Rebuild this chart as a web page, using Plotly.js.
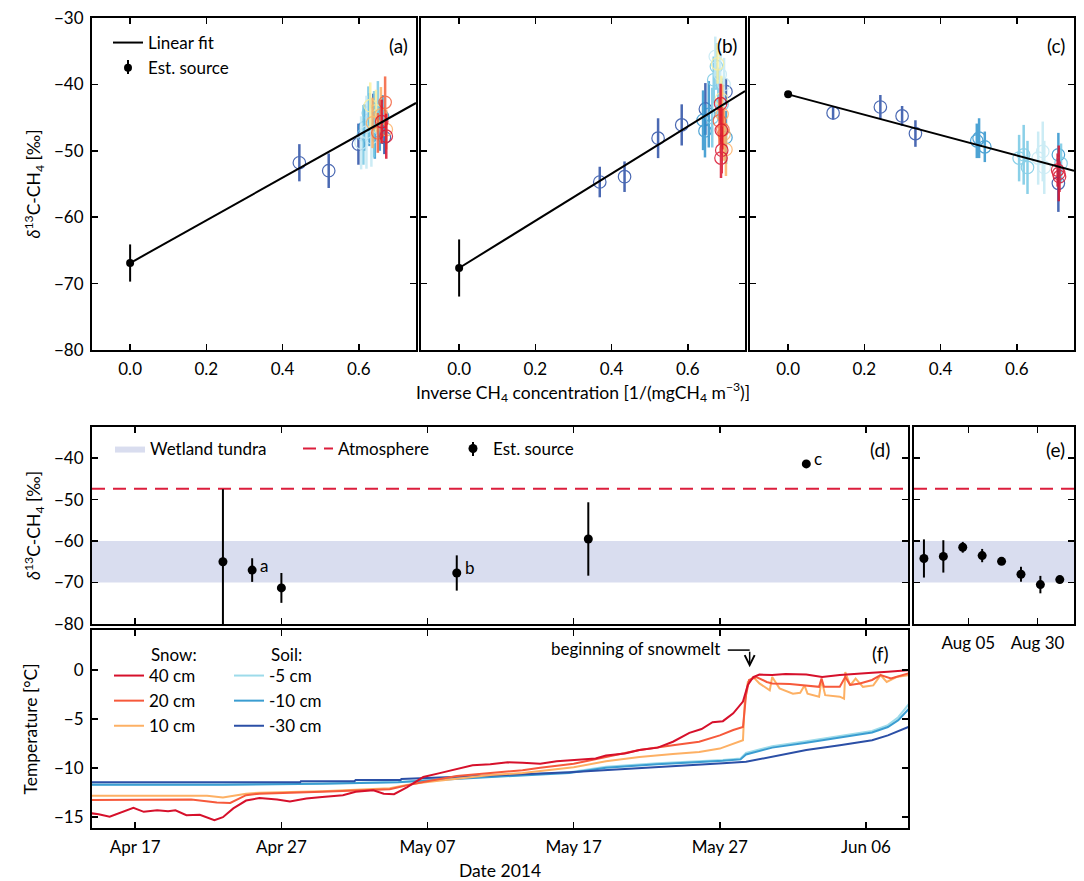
<!DOCTYPE html>
<html><head><meta charset="utf-8">
<script src="https://cdn.plot.ly/plotly-3.0.1.min.js"></script>
<style>html,body{margin:0;padding:0;background:#fff}</style>
</head><body><div id="chart" style="width:1084px;height:881px"></div>
<script>
// ---------------- DATA ----------------
// Panel (a): inverse concentration vs delta13C, with error and sampling group
const aX = [0.444,0.521,0.599,0.638,0.667, 0.615,0.628,0.642,0.655,0.662, 0.612,0.625,0.640,0.650, 0.606,0.620,0.633, 0.630,0.645, 0.636,0.658,0.672, 0.669,0.650, 0.660,0.672];
const aY = [-51.8,-53.0,-49.0,-45.0,-48.0, -46.5,-45.3,-47.0,-46.2,-44.8, -47.6,-44.3,-46.0,-43.5, -48.8,-47.2,-48.0, -43.2,-44.0, -45.8,-44.6,-46.8, -42.7,-47.3, -45.6,-47.8];
const aErr = [2.8,2.6,3.1,3.6,2.5, 3.5,4.0,4.2,3.8,3.2, 4.5,4.0,5.0,4.0, 4.0,5.5,4.4, 3.5,3.2, 3.8,4.2,3.0, 3.9,3.0, 3.3,3.4];
const aGroup = [0,0,0,0,0, 1,1,1,1,1, 2,2,2,2, 3,3,3, 4,4, 5,5,5, 6,6, 7,7];
// Panel (b)
const bX = [0.369,0.434,0.522,0.584,0.646,0.700, 0.640,0.645,0.655,0.700, 0.668,0.675,0.680,0.690,0.664, 0.672,0.685,0.695, 0.678,0.688, 0.690,0.695,0.700, 0.683,0.692, 0.686,0.688,0.689,0.687];
const bY = [-54.7,-53.9,-48.1,-46.1,-43.7,-41.1, -45.4,-47.0,-44.5,-48.0, -39.3,-37.3,-41.5,-43.0,-45.0, -35.8,-38.5,-40.0, -36.9,-42.2, -44.5,-47.5,-49.8, -45.5,-46.8, -42.9,-46.9,-49.9,-51.1];
const bErr = [2.3,2.3,3.0,3.1,3.9,2.0, 4.5,4.0,5.0,4.0, 3.5,3.5,4.0,4.0,4.5, 3.0,3.5,4.0, 3.0,3.5, 4.5,4.0,4.0, 3.5,3.0, 3.0,3.5,3.5,3.0];
const bGroup = [0,0,0,0,0,0, 1,1,1,1, 2,2,2,2,2, 3,3,3, 4,4, 5,5,5, 6,6, 7,7,7,7];
// Panel (c)
const cX = [0.118,0.242,0.299,0.334,0.709, 0.495,0.501,0.516,0.709, 0.606,0.618,0.628,0.716, 0.656,0.668,0.672, 0.707,0.710,0.712];
const cY = [-44.3,-43.4,-44.75,-47.4,-54.9, -48.5,-48.1,-49.4,-50.6, -51.1,-50.6,-52.5,-51.9, -51.1,-50.1,-52.5, -52.9,-53.4,-53.9];
const cErr = [1.0,1.8,1.5,2.0,4.3, 2.6,3.0,2.3,3.3, 3.5,4.5,4.0,3.0, 4.0,4.5,4.0, 2.5,4.2,2.3];
const cGroup = [0,0,0,0,0, 1,1,1,1, 2,2,2,2, 3,3,3, 7,7,7];
// Estimated sources (intercepts) for (a),(b),(c)
const srcX = [0, 0, 0];
const srcY = [-66.9, -67.65, -41.5];
const srcErr = [2.8, 4.3, 0.2];
// Linear fit end points
const fitX = [0, 0.75];
const fitAY = [-66.9, -42.8];
const fitBY = [-67.65, -41.0];
const fitCY = [-41.5, -53.0];

// Panel (d): estimated source over time (spring 2014)
const dDates = ['2014-04-23','2014-04-25','2014-04-27','2014-05-09','2014-05-18','2014-06-01 22:00'];
const dVals = [-65.0, -67.0, -71.3, -67.7, -59.5, -41.4];
const dErr = [17.5, 2.85, 3.6, 4.25, 8.85, 0.0];
const dLabels = ['', 'a', '', 'b', '', 'c'];
// Panel (e): summer 2014
const eDates = ['2014-07-20','2014-07-27','2014-08-03','2014-08-10','2014-08-17','2014-08-24','2014-08-31','2014-09-07'];
const eVals = [-64.2, -63.7, -61.5, -63.5, -64.9, -68.0, -70.5, -69.3];
const eErr = [4.6, 3.9, 1.3, 1.6, 0.3, 1.8, 2.1, 0.3];
const wetlandRange = [-70, -60];
const atmosphereVal = -47.4;

// Panel (f): temperatures
const t40Dates = ['2014-04-14 00:00','2014-04-14 12:00','2014-04-15 06:00','2014-04-16 00:00','2014-04-16 21:00','2014-04-17 14:00','2014-04-18 12:00','2014-04-19 06:00','2014-04-19 18:00','2014-04-20 12:00','2014-04-21 10:00','2014-04-22 10:00','2014-04-23 00:00','2014-04-23 17:00','2014-04-24 14:00','2014-04-25 12:00','2014-04-26 17:00','2014-04-27 14:00','2014-04-28 17:00','2014-04-29 19:00','2014-05-01 05:00','2014-05-02 02:00','2014-05-03 07:00','2014-05-04 00:00','2014-05-04 17:00','2014-05-05 14:00','2014-05-06 17:00','2014-05-07 20:00','2014-05-09 00:00','2014-05-10 02:00','2014-05-11 07:00','2014-05-12 12:00','2014-05-13 12:00','2014-05-14 17:00','2014-05-15 20:00','2014-05-17 00:00','2014-05-18 12:00','2014-05-19 05:00','2014-05-20 12:00','2014-05-21 12:00','2014-05-22 18:00','2014-05-23 19:00','2014-05-24 22:00','2014-05-25 18:00','2014-05-26 12:00','2014-05-27 05:00','2014-05-27 22:00','2014-05-28 14:00','2014-05-28 22:00','2014-05-29 07:00','2014-05-29 17:00','2014-05-30 14:00','2014-05-31 12:00','2014-06-01 22:00','2014-06-03 00:00','2014-06-04 05:00','2014-06-05 07:00','2014-06-06 10:00','2014-06-07 12:00','2014-06-08 23:00'];
const t40Vals = [-14.6,-14.7,-14.95,-14.5,-14.05,-14.45,-14.3,-14.4,-14.3,-14.8,-14.75,-15.3,-15.0,-14.1,-13.3,-13.05,-13.2,-13.4,-13.1,-12.95,-12.75,-12.4,-12.25,-12.6,-12.65,-11.95,-10.9,-10.5,-10.05,-9.7,-9.6,-9.4,-9.45,-9.55,-9.3,-9.2,-9.0,-8.7,-8.5,-8.15,-7.9,-7.3,-6.4,-6.0,-5.3,-5.2,-4.4,-3.2,-1.5,-0.7,-0.45,-0.5,-0.4,-0.45,-0.7,-0.5,-0.35,-0.25,-0.15,0.0];
const t20Dates = ['2014-04-14 00:00','2014-04-17 00:00','2014-04-20 20:00','2014-04-22 14:00','2014-04-23 12:00','2014-04-24 14:00','2014-04-25 12:00','2014-04-29 19:00','2014-05-04 10:00','2014-05-05 14:00','2014-05-06 17:00','2014-05-09 00:00','2014-05-11 07:00','2014-05-13 12:00','2014-05-14 17:00','2014-05-17 00:00','2014-05-19 05:00','2014-05-21 12:00','2014-05-23 19:00','2014-05-25 14:00','2014-05-27 00:00','2014-05-27 22:00','2014-05-28 14:00','2014-05-28 19:00','2014-05-29 00:00','2014-05-29 12:00','2014-05-30 05:00','2014-05-30 14:00','2014-05-31 19:00','2014-06-01 22:00','2014-06-02 19:00','2014-06-02 23:00','2014-06-03 03:00','2014-06-04 05:00','2014-06-04 14:00','2014-06-04 22:00','2014-06-05 14:00','2014-06-06 10:00','2014-06-07 00:00','2014-06-07 17:00','2014-06-08 23:00'];
const t20Vals = [-13.25,-13.2,-13.2,-13.5,-13.55,-12.75,-12.6,-12.4,-12.15,-11.75,-11.4,-10.8,-10.5,-10.2,-9.95,-9.55,-8.85,-8.15,-7.65,-7.3,-6.65,-6.1,-5.8,-2.55,-1.0,-0.7,-1.2,-1.35,-1.4,-1.55,-1.7,-0.85,-1.7,-1.7,-0.7,-1.5,-1.35,-1.0,-0.5,-0.85,-0.3];
const t10Dates = ['2014-04-14 00:00','2014-04-21 22:00','2014-04-23 00:00','2014-04-24 14:00','2014-04-25 12:00','2014-04-29 19:00','2014-05-04 10:00','2014-05-05 14:00','2014-05-06 17:00','2014-05-09 00:00','2014-05-11 07:00','2014-05-13 12:00','2014-05-15 00:00','2014-05-17 00:00','2014-05-19 05:00','2014-05-21 12:00','2014-05-23 19:00','2014-05-25 14:00','2014-05-27 00:00','2014-05-28 10:00','2014-05-28 14:00','2014-05-28 17:00','2014-05-28 22:00','2014-05-29 07:00','2014-05-29 17:00','2014-05-30 10:00','2014-05-30 14:00','2014-05-31 02:00','2014-06-01 00:00','2014-06-01 12:00','2014-06-01 19:00','2014-06-02 00:00','2014-06-02 19:00','2014-06-02 23:00','2014-06-03 05:00','2014-06-04 05:00','2014-06-04 12:00','2014-06-04 14:00','2014-06-04 22:00','2014-06-05 07:00','2014-06-05 19:00','2014-06-06 12:00','2014-06-07 00:00','2014-06-07 10:00','2014-06-08 02:00','2014-06-08 23:00'];
const t10Vals = [-12.8,-12.8,-13.0,-12.6,-12.5,-12.35,-12.05,-11.7,-11.45,-11.05,-10.7,-10.5,-10.25,-9.9,-9.3,-8.85,-8.55,-8.35,-8.0,-7.3,-7.15,-3.2,-1.2,-0.7,-1.35,-2.05,-0.7,-1.85,-2.4,-2.3,-1.55,-2.4,-2.7,-1.0,-2.55,-2.7,-2.9,-0.2,-1.55,-0.85,-1.7,-1.55,-0.5,-1.2,-0.7,-0.5];
const s5Dates = ['2014-04-14 00:00','2014-04-23 00:00','2014-04-29 19:00','2014-05-05 00:00','2014-05-07 00:00','2014-05-10 00:00','2014-05-13 00:00','2014-05-16 17:00','2014-05-19 05:00','2014-05-22 17:00','2014-05-27 05:00','2014-05-28 10:00','2014-05-28 19:00','2014-05-30 14:00','2014-06-01 22:00','2014-06-04 05:00','2014-06-06 10:00','2014-06-07 12:00','2014-06-08 05:00','2014-06-08 23:00'];
const s5Vals = [-11.65,-11.65,-11.55,-11.4,-11.2,-10.95,-10.7,-10.4,-9.85,-9.5,-9.15,-9.0,-8.45,-7.75,-7.25,-6.75,-6.2,-5.6,-4.8,-3.4];
const s10Dates = ['2014-04-14 00:00','2014-04-23 00:00','2014-04-29 19:00','2014-05-05 00:00','2014-05-07 00:00','2014-05-10 00:00','2014-05-13 00:00','2014-05-16 17:00','2014-05-19 05:00','2014-05-22 17:00','2014-05-27 05:00','2014-05-28 10:00','2014-05-28 19:00','2014-05-30 14:00','2014-06-01 22:00','2014-06-04 05:00','2014-06-06 10:00','2014-06-07 12:00','2014-06-08 05:00','2014-06-08 23:00'];
const s10Vals = [-11.7,-11.7,-11.58,-11.42,-11.25,-11.0,-10.75,-10.48,-9.95,-9.6,-9.25,-9.1,-8.6,-7.9,-7.4,-6.9,-6.35,-5.8,-5.1,-3.9];
const s30Dates = ['2014-04-14 00:00','2014-04-28 07:00','2014-04-28 08:00','2014-05-02 00:00','2014-05-02 02:00','2014-05-05 04:00','2014-05-05 05:00','2014-05-08 00:00','2014-05-11 00:00','2014-05-14 17:00','2014-05-16 17:00','2014-05-19 05:00','2014-05-23 19:00','2014-05-27 05:00','2014-05-28 19:00','2014-05-30 14:00','2014-06-01 22:00','2014-06-04 05:00','2014-06-06 10:00','2014-06-07 12:00','2014-06-08 23:00'];
const s30Vals = [-11.43,-11.43,-11.33,-11.33,-11.2,-11.2,-11.1,-10.95,-10.8,-10.55,-10.4,-10.2,-9.8,-9.5,-9.35,-8.85,-8.15,-7.65,-7.15,-6.65,-5.75];
const snowLabels = ['40 cm','20 cm','10 cm'];
const soilLabels = ['-5 cm','-10 cm','-30 cm'];
const snowmeltDate = '2014-05-29 01:00';

// ---------------- STYLE ----------------
const W = 1084, H = 881;
const FONT = 'Lato, "DejaVu Sans", sans-serif';
const groupColors = ['#2b4fa6','#2f93cd','#76c8e4','#c4e9f4','#fbf0a0','#fdb064','#f4603b','#d9112d'];
const snowColors = ['#d6102b','#f6593b','#fdb064'];
const soilColors = ['#9ddbea','#3a9dd1','#2b4fa6'];
const bandColor = '#d9ddef';
const atmColor = '#dc1e3c';
const dRange = ['2014-04-14 01:00','2014-06-08 21:00'];
const eRange = ['2014-07-16 10:00','2014-09-12 03:00'];

function hx(a,b){return [a/W, b/W];}
function vy(t,b){return [1-b/H, 1-t/H];}
function ax(extra){
  return Object.assign({showline:true, linecolor:'#000', linewidth:2, mirror:'ticks', ticks:'inside',
    ticklen:6, tickwidth:1.5, tickcolor:'#000', showgrid:false, zeroline:false,
    tickfont:{family:FONT, size:17, color:'#000'}, ticklabelstandoff:3, fixedrange:true}, extra);
}
const titleFont = {family:FONT, size:17.5, color:'#000'};

// ---------------- TRACES ----------------
const traces = [];
function groupTraces(X, Y, E, G, xa, ya){
  for (let g = 0; g < groupColors.length; g++){
    const idx = X.map((_, i) => i).filter(i => G[i] === g);
    if (!idx.length) continue;
    traces.push({type:'scatter', mode:'markers', x: idx.map(i => X[i]), y: idx.map(i => Y[i]),
      error_y:{type:'data', array: idx.map(i => E[i]), visible:true, color: groupColors[g], thickness:2.5, width:0},
      marker:{symbol:'circle-open', size:12.5, color: groupColors[g], line:{width:1.2}},
      opacity:0.85, xaxis:xa, yaxis:ya, showlegend:false, hoverinfo:'skip'});
  }
}
const panels = [[aX,aY,aErr,aGroup,'x','y',fitAY],[bX,bY,bErr,bGroup,'x2','y2',fitBY],[cX,cY,cErr,cGroup,'x3','y3',fitCY]];
panels.forEach((p, k) => {
  groupTraces(p[0], p[1], p[2], p[3], p[4], p[5]);
  traces.push({type:'scatter', mode:'lines', x: fitX, y: p[6], line:{color:'#000', width:2},
    xaxis:p[4], yaxis:p[5], name:'Linear fit', showlegend: k === 0, legend:'legend', hoverinfo:'skip'});
  traces.push({type:'scatter', mode:'markers', x:[srcX[k]], y:[srcY[k]],
    error_y:{type:'data', array:[srcErr[k]], visible:true, color:'#000', thickness:2, width:0},
    marker:{color:'#000', size:8}, xaxis:p[4], yaxis:p[5], name:'Est. source', showlegend: k === 0, legend:'legend', hoverinfo:'skip'});
});

// Panel (d) and (e)
[['x4','y4',dRange,true],['x5','y5',eRange,false]].forEach(q => {
  traces.push({type:'scatter', mode:'lines', x:[q[2][0],q[2][1],q[2][1],q[2][0],q[2][0]],
    y:[wetlandRange[1],wetlandRange[1],wetlandRange[0],wetlandRange[0],wetlandRange[1]],
    fill:'toself', fillcolor:bandColor, line:{width:0, color:bandColor}, xaxis:q[0], yaxis:q[1],
    name:'Wetland tundra', showlegend:q[3], legend:'legend2', hoverinfo:'skip'});
  traces.push({type:'scatter', mode:'lines', x:[q[2][0],q[2][1]], y:[atmosphereVal, atmosphereVal],
    line:{color:atmColor, width:2, dash:'13px,8px'}, xaxis:q[0], yaxis:q[1],
    name:'Atmosphere', showlegend:q[3], legend:'legend3', hoverinfo:'skip'});
});
traces.push({type:'scatter', mode:'markers', x:dDates, y:dVals,
  error_y:{type:'data', array:dErr, visible:true, color:'#000', thickness:2, width:0},
  marker:{color:'#000', size:9}, xaxis:'x4', yaxis:'y4', name:'Est. source', legend:'legend4', hoverinfo:'skip'});
traces.push({type:'scatter', mode:'markers', x:eDates, y:eVals,
  error_y:{type:'data', array:eErr, visible:true, color:'#000', thickness:2, width:0},
  marker:{color:'#000', size:9}, xaxis:'x5', yaxis:'y5', showlegend:false, hoverinfo:'skip'});

// Panel (f)
const snowSeries = [[t40Dates,t40Vals],[t20Dates,t20Vals],[t10Dates,t10Vals]];
const soilSeries = [[s5Dates,s5Vals],[s10Dates,s10Vals],[s30Dates,s30Vals]];
soilSeries.forEach((s, i) => traces.push({type:'scatter', mode:'lines', x:s[0], y:s[1],
  line:{color:soilColors[i], width:2}, name:soilLabels[i], legend:'legend6', xaxis:'x6', yaxis:'y6', hoverinfo:'skip'}));
snowSeries.slice().reverse().forEach((s, j) => { const i = 2 - j; traces.push({type:'scatter', mode:'lines', x:s[0], y:s[1],
  line:{color:snowColors[i], width:2}, name:snowLabels[i], legend:'legend5', legendrank:i+1, xaxis:'x6', yaxis:'y6', hoverinfo:'skip'}); });

// ---------------- LAYOUT ----------------
function leg(xpx, ypx, extra){
  return Object.assign({x:xpx/W, y:1-ypx/H, xanchor:'left', yanchor:'top', bgcolor:'rgba(0,0,0,0)',
    borderwidth:0, font:{family:FONT, size:17, color:'#000'}, itemwidth:30, tracegroupgap:0}, extra||{});
}
function panelLabel(txt, xr, yr, xs, ys){
  return {text:txt, xref:xr+' domain', yref:yr+' domain', x:1, y:1, xanchor:'right', yanchor:'top',
    xshift:xs, yshift:ys, showarrow:false, font:{family:FONT, size:19, color:'#000'}};
}
const deltaTitle = '<i>δ</i><sup>13</sup>C-CH<sub>4</sub> [‰]';
const annotations = [
  panelLabel('(a)','x','y',-6,-14), panelLabel('(b)','x2','y2',-6,-14), panelLabel('(c)','x3','y3',-7,-14),
  panelLabel('(d)','x4','y4',-16,-9), panelLabel('(e)','x5','y5',-7,-9), panelLabel('(f)','x6','y6',-17,-10),
  {text:'Snow:', xref:'paper', yref:'paper', x:149/W, y:1-654/H, xanchor:'left', yanchor:'middle', showarrow:false, font:{family:FONT,size:17,color:'#000'}},
  {text:'Soil:', xref:'paper', yref:'paper', x:269/W, y:1-654/H, xanchor:'left', yanchor:'middle', showarrow:false, font:{family:FONT,size:17,color:'#000'}},
  {text:'beginning of snowmelt', xref:'x6', yref:'y6', x:'2014-05-27 04:00', y:2.2, xanchor:'right', yanchor:'middle', showarrow:false, font:{family:FONT,size:17,color:'#000'}},
  {text:'', xref:'x6', yref:'y6', x:snowmeltDate, y:0.3, ax:0, ay:-17, showarrow:true, arrowhead:5, arrowsize:1.3, arrowwidth:1.5, arrowcolor:'#000'}
];
dLabels.forEach((t, i) => { if (t) annotations.push({text:t, xref:'x4', yref:'y4', x:dDates[i], y:dVals[i],
  xanchor:'left', yanchor:'middle', xshift:6, yshift:5, showarrow:false, font:{family:FONT,size:17,color:'#000'}}); });

// vertical error-bar glyphs for the "Est. source" legend entries
const legendBars = [[128, 60, 74], [473, 442, 456]].map(b => ({type:'line', xref:'paper', yref:'paper',
  x0:b[0]/W, x1:b[0]/W, y0:1-b[1]/H, y1:1-b[2]/H, line:{color:'#000', width:2}}));

const layout = {
  width:W, height:H, margin:{l:0,r:0,t:0,b:0}, paper_bgcolor:'#fff', plot_bgcolor:'#fff',
  font:{family:FONT, size:17, color:'#000'}, hovermode:false,
  xaxis: ax({domain:hx(92,416), anchor:'y', range:[-0.1,0.75], tick0:0, dtick:0.2, tickformat:'.1f'}),
  yaxis: ax({domain:vy(18,350), anchor:'x', range:[-80,-30], dtick:10, title:{text:deltaTitle, font:titleFont, standoff:9}}),
  xaxis2: ax({domain:hx(421,745), anchor:'y2', range:[-0.1,0.75], tick0:0, dtick:0.2, tickformat:'.1f',
    title:{text:'Inverse CH<sub>4</sub> concentration [1/(mgCH<sub>4</sub> m<sup>−3</sup>)]', font:titleFont, standoff:8}}),
  yaxis2: ax({domain:vy(18,350), anchor:'x2', range:[-80,-30], dtick:10, showticklabels:false}),
  xaxis3: ax({domain:hx(750,1074), anchor:'y3', range:[-0.1,0.75], tick0:0, dtick:0.2, tickformat:'.1f'}),
  yaxis3: ax({domain:vy(18,350), anchor:'x3', range:[-80,-30], dtick:10, showticklabels:false}),
  xaxis4: ax({domain:hx(92,908), anchor:'y4', type:'date', range:dRange, tick0:'2014-04-17', dtick:864000000, showticklabels:false}),
  yaxis4: ax({domain:vy(427,624), anchor:'x4', range:[-80,-32.5], dtick:10, title:{text:deltaTitle, font:titleFont, standoff:9}}),
  xaxis5: ax({domain:hx(914,1074), anchor:'y5', type:'date', range:eRange, tick0:'2014-08-05', dtick:2160000000, tickformat:'%b %d'}),
  yaxis5: ax({domain:vy(427,624), anchor:'x5', range:[-80,-32.5], dtick:10, showticklabels:false}),
  xaxis6: ax({domain:hx(92,908), anchor:'y6', type:'date', range:dRange, tick0:'2014-04-17', dtick:864000000, tickformat:'%b %d',
    title:{text:'Date 2014', font:titleFont, standoff:9}}),
  yaxis6: ax({domain:vy(630,828), anchor:'x6', range:[-16.1,4.1], dtick:5, title:{text:'Temperature [°C]', font:titleFont, standoff:12}}),
  legend: leg(108, 25),
  legend2: leg(110, 431),
  legend3: leg(298, 431),
  legend4: leg(453, 431),
  legend5: leg(109, 658),
  legend6: leg(229, 658),
  shapes:[{type:'line', xref:'x6', yref:'y6', x0:'2014-05-27 13:00', x1:snowmeltDate, y0:2.05, y1:2.05, line:{color:'#000', width:1.5}}].concat(legendBars),
  annotations: annotations
};
Plotly.newPlot('chart', traces, layout, {displayModeBar:false, staticPlot:true});
</script></body></html>
